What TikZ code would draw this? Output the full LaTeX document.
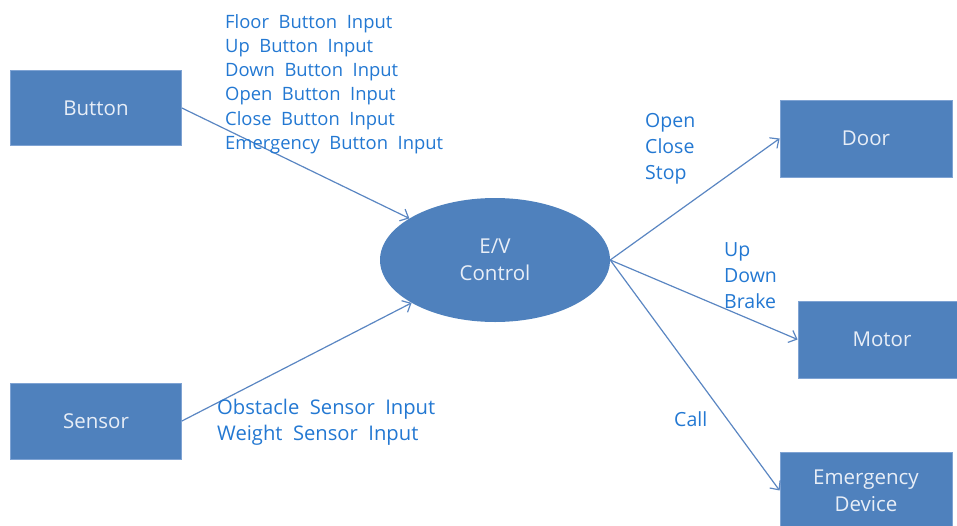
\documentclass[tikz,border=0pt]{standalone}
\usepackage{fontspec}
\setmainfont[WordSpace=2]{Open Sans}
\usetikzlibrary{arrows.meta,shapes.geometric}
\definecolor{boxfill}{HTML}{4F81BD}
\definecolor{boxedge}{HTML}{7FA3D3}
\definecolor{boxtext}{HTML}{E8EEF7}
\definecolor{lbltext}{HTML}{2378D2}
\definecolor{wire}{HTML}{5A86C2}
\tikzset{
  unit/.style={rectangle, fill=boxfill, draw=boxedge, line width=0.8pt,
    inner sep=0pt, text=boxtext, align=center,
    font=\fontsize{20.5}{27}\selectfont},
  hub/.style={ellipse, fill=boxfill, draw=none, inner sep=0pt,
    minimum width=230pt, minimum height=124pt, text=boxtext, align=center,
    font=\fontsize{20.5}{27}\selectfont},
  sig/.style={draw=wire, line width=1.2pt,
    -{Straight Barb[length=7pt,width=13pt,line width=1.2pt]}},
  msg/.style={text=lbltext, align=left, inner sep=0pt, anchor=west},
  msgsmall/.style={msg, font=\fontsize{18.4}{24.3}\selectfont},
  msgbig/.style={msg, font=\fontsize{19.5}{26}\selectfont},
}
\begin{document}
\begin{tikzpicture}[x=1pt,y=-1pt]
\useasboundingbox (0,0) rectangle (957,525);
\clip (0,0) rectangle (957,525);

% blocks
\node[unit, minimum width=171pt, minimum height=75pt] (button) at (96,108) {Button};
\node[unit, minimum width=171pt, minimum height=76pt] (sensor) at (96,421) {Sensor};
\node[hub] (ctrl) at (495,260) {E/V\\Control};
\node[unit, minimum width=172pt, minimum height=77pt] (door) at (866,138.5) {Door};
\node[unit, minimum width=168pt, minimum height=77pt] (motor) at (882,339.5) {Motor};
\node[unit, minimum width=172pt, minimum height=77pt] (emerg) at (866,490.5) {Emergency\\Device};

% signals
\draw[sig] (button.east) -- (ctrl);
\draw[sig] (sensor.east) -- (ctrl);
\draw[sig] (ctrl.east) -- (door.west);
\draw[sig] (ctrl.east) -- (motor.west);
\draw[sig] (ctrl.east) -- (emerg.west);

% signal labels
\node[msgsmall] (lbtn) at (225,84) {Floor Button Input\\Up Button Input\\Down Button Input\\Open Button Input\\Close Button Input\\Emergency Button Input};
\node[msgbig, font=\fontsize{20.2}{26}\selectfont] (lsen) at (217,422) {Obstacle Sensor Input\\Weight Sensor Input};
\node[msgbig] (ldoor) at (645,149) {Open\\Close\\Stop};
\node[msgbig] (lmotor) at (724,276) {Up\\Down\\Brake};
\node[msgbig] (lcall) at (674,419) {Call};
\end{tikzpicture}
\end{document}
